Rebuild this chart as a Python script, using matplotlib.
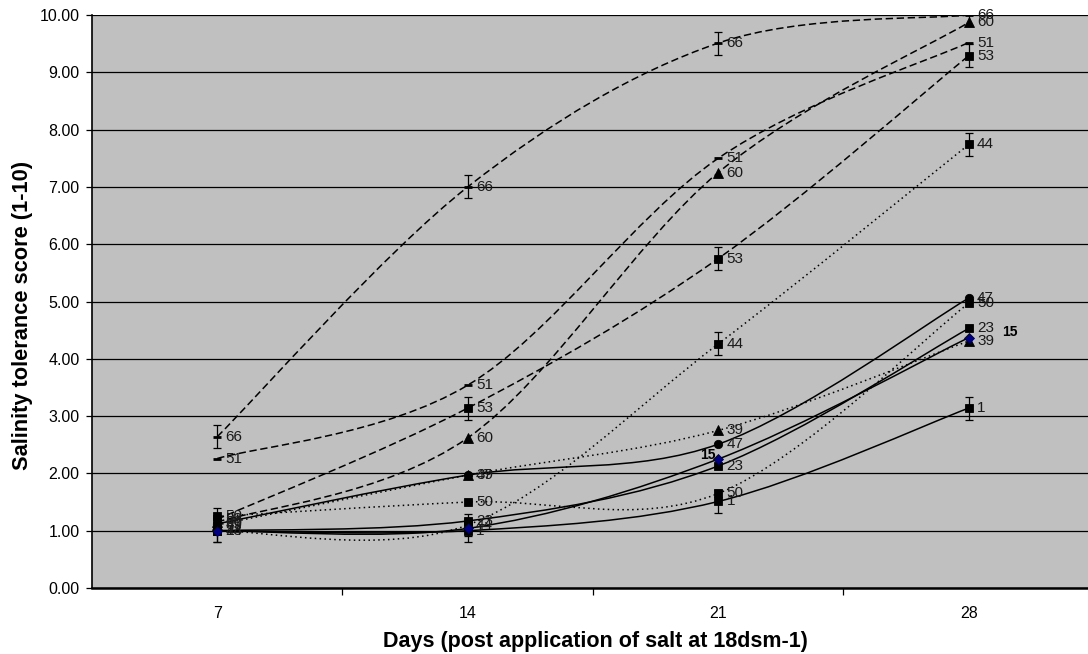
import numpy as np
import matplotlib
matplotlib.use("Agg")
import matplotlib.pyplot as plt
from matplotlib.path import Path
from matplotlib.patches import PathPatch

plt.rcParams['font.family'] = ['Liberation Sans', 'DejaVu Sans']

days = ['7', '14', '21', '28']

# scores per line
s66 = [2.64, 7.00, 9.51, 10.00]
s51 = [2.26, 3.54, 7.50, 9.52]
s53 = [1.20, 3.14, 5.75, 9.29]
s60 = [1.15, 2.62, 7.25, 9.87]
s44 = [1.00, 1.10, 4.26, 7.74]
s50 = [1.25, 1.50, 1.65, 4.97]
s39 = [1.10, 1.97, 2.75, 4.31]
s47 = [1.12, 1.97, 2.51, 5.06]
s23 = [1.00, 1.17, 2.13, 4.53]
s1 = [1.00, 1.00, 1.51, 3.14]
s15 = [1.00, 1.04, 2.25, 4.37]

err = 0.2
with_err = ['66', '53', '44', '1']

dash = (0, (4.8, 2.4))
dot = (0, (1.0, 2.2))

# name, values, line style, marker, size, fill colour
lines = [
    ('66', s66, dash, '_', 5.5, 'black'),
    ('51', s51, dash, '_', 5.5, 'black'),
    ('53', s53, dash, 's', 6.0, 'black'),
    ('60', s60, dash, '^', 6.5, 'black'),
    ('44', s44, dot, 's', 6.0, 'black'),
    ('50', s50, dot, 's', 6.0, 'black'),
    ('39', s39, dot, '^', 6.5, 'black'),
    ('47', s47, '-', 'o', 6.0, 'black'),
    ('23', s23, '-', 's', 6.0, 'black'),
    ('1', s1, '-', 's', 6.0, 'black'),
    ('15', s15, '-', 'D', 5.2, '#000080'),
]


def smooth(xs, ys):
    # bezier through the points, like a spreadsheet "smoothed line"
    p = np.column_stack([xs, ys]).astype(float)
    n = len(p)
    verts = [p[0]]
    codes = [Path.MOVETO]
    for i in range(n - 1):
        p0 = p[max(i - 1, 0)]
        p1 = p[i]
        p2 = p[i + 1]
        p3 = p[min(i + 2, n - 1)]
        verts += [p1 + (p2 - p0) / 6, p2 - (p3 - p1) / 6, p2]
        codes += [Path.CURVE4] * 3
    return Path(verts, codes)


fig = plt.figure(figsize=(10.88, 6.54), dpi=100)
ax = fig.add_axes([92 / 1088, 66 / 654, 1002 / 1088, 573 / 654])
ax.set_facecolor('#c0c0c0')

x = np.arange(1, len(days) + 1)

for name, vals, ls, mk, ms, fc in lines:
    ax.add_patch(PathPatch(smooth(x, vals), fill=False, ec='black',
                           lw=1.1, ls=ls, zorder=3))
    if name in with_err:
        ax.errorbar(x, vals, yerr=err, fmt='none', ecolor='black',
                    elinewidth=0.9, capsize=3.2, capthick=0.9, zorder=4)
    mew = 2.0 if mk == '_' else 0.6
    ax.plot(x, vals, ls='none', marker=mk, ms=ms, mfc=fc,
            mec=fc if mk != 'D' else '#000040', mew=mew, zorder=5)
    if name == '15':
        ax.annotate(name, (x[2], vals[2]), xytext=(-2, 3),
                    textcoords='offset points', ha='right', va='center',
                    fontsize=10, fontweight='bold', zorder=6)
        ax.annotate(name, (x[3], vals[3]), xytext=(24, 4),
                    textcoords='offset points', ha='left', va='center',
                    fontsize=10, fontweight='bold', zorder=6)
    else:
        for xi, v in zip(x, vals):
            ax.annotate(name, (xi, v), xytext=(6, 0),
                        textcoords='offset points', ha='left', va='center',
                        fontsize=11, color='#1a1a1a', zorder=6)

ax.set_xlim(0.5, 4.5)
ax.set_ylim(0, 10)
ax.set_yticks(np.arange(0, 11, 1))
ax.set_yticklabels(['%.2f' % v for v in range(11)])
ax.yaxis.grid(True, color='black', lw=0.9)
ax.set_axisbelow(True)

ax.set_xticks(x)
ax.set_xticklabels(days)
ax.set_xticks(np.arange(1.5, 4.6, 1), minor=True)
ax.tick_params(axis='x', which='major', length=0, pad=13, labelsize=11.5)
ax.tick_params(axis='x', which='minor', length=5, width=0.9, direction='out')
ax.tick_params(axis='y', length=4, width=0.9, direction='out', pad=5,
               labelsize=11.5)

for side in ['top', 'right']:
    ax.spines[side].set_visible(False)
ax.spines['left'].set_linewidth(1.2)
ax.spines['bottom'].set_linewidth(1.8)

ax.set_xlabel('Days (post application of salt at 18dsm-1)',
              fontsize=15.5, fontweight='bold')
ax.set_ylabel('Salinity tolerance score (1-10)',
              fontsize=15.7, fontweight='bold')
ax.xaxis.set_label_coords(0.502, -0.093)
ax.xaxis.label.set_va('center')
ax.yaxis.set_label_coords(-0.069, 0.476)
ax.yaxis.label.set_va('center')

fig.savefig('out.png', dpi=100)
